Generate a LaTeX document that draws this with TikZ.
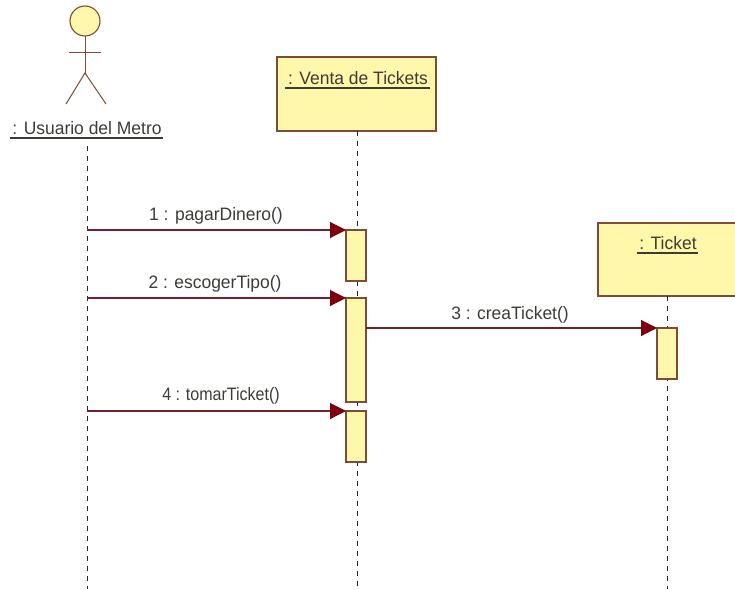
\documentclass[tikz,border=0pt]{standalone}
\usepackage{fontspec}
\setmainfont{Liberation Sans}
\usetikzlibrary{arrows.meta}
\definecolor{umlfill}{RGB}{255,247,170}
\definecolor{umlline}{RGB}{125,75,55}
\definecolor{umlmsg}{RGB}{120,30,40}
\definecolor{umlhead}{RGB}{125,0,15}
\definecolor{umltext}{RGB}{60,60,55}
\tikzset{
  every node/.style={inner sep=0pt,outer sep=0pt},
  objbox/.style={draw=umlline,fill=umlfill,line width=2pt,anchor=north west},
  activation/.style={draw=umlline,fill=umlfill,line width=1.2pt,anchor=north west,minimum width=20pt},
  lifeline/.style={black!85,line width=1pt,dash pattern=on 5pt off 5pt},
  msg/.style={umlmsg,line width=1.1pt,-{Triangle[length=16pt,width=16pt,color=umlhead]}},
  lbl/.style={text=umltext,font=\fontsize{18}{20}\selectfont\addfontfeatures{FakeStretch=0.97}},
  lblnarrow/.style={text=umltext,font=\fontsize{18}{20}\selectfont\addfontfeatures{FakeStretch=0.89}},
  actorline/.style={umlline,line width=1pt},
  ul/.style={umltext,line width=1.2pt}
}
\begin{document}
\begin{tikzpicture}[x=1pt,y=-1pt]
\useasboundingbox (0,0) rectangle (735,589);
% free ends
\coordinate (actorTop) at (87,146);
\coordinate (actorEnd) at (87,589);
\coordinate (ventaEnd) at (357,589);
\coordinate (ticketEnd) at (667,589);
\coordinate (from1) at (87,230);
\coordinate (from2) at (87,298);
\coordinate (from4) at (87,411);
% objects
\node[objbox,minimum width=159pt,minimum height=74pt] (venta) at (277,57) {};
\node[objbox,minimum width=138pt,minimum height=73pt] (ticket) at (598,223) {};
% lifelines
\draw[lifeline] (actorTop) -- (actorEnd);
\draw[lifeline] (venta.south -| ventaEnd) -- (ventaEnd);
\draw[lifeline] (ticket.south -| ticketEnd) -- (ticketEnd);
% activations
\node[activation,minimum height=51pt] (a1) at (346,230) {};
\node[activation,minimum height=104pt] (a2) at (346,298) {};
\node[activation,minimum height=51pt] (a4) at (346,411) {};
\node[activation,minimum height=51pt] (a3) at (657,328) {};
% messages
\draw[msg] (from1) -- (a1.north west);
\draw[msg] (from2) -- (a2.north west);
\draw[msg] (from4) -- (a4.north west);
\draw[msg] (a2.east |- a3.north west) -- (a3.north west);
\node[lbl] (m1) at (216,216) {1 : pagarDinero()};
\node[lbl] (m2) at (215,284) {2 : escogerTipo()};
\node[lbl] (m3) at (510,315) {3 : creaTicket()};
\node[lblnarrow] (m4) at (221,396) {4 : tomarTicket()};
% actor
\node[circle,draw=umlline,fill=umlfill,line width=1.1pt,minimum size=30pt] (head) at (85,21) {};
\coordinate (hip) at (85,73);
\coordinate (armL) at (69,52);
\coordinate (armR) at (101,52);
\coordinate (legL) at (66,104);
\coordinate (legR) at (106,104);
\draw[actorline] (head.south) -- (hip);
\draw[actorline] (armL) -- (armR);
\draw[actorline] (legL) -- (hip) -- (legR);
% names
\node[lbl] (actorLabel) at (87,128) {: Usuario del Metro};
\coordinate (ulA) at (10,138);
\coordinate (ulB) at (163,138);
\draw[ul] (ulA) -- (ulB);
\node[lbl] (ventaLabel) at (358,78) {: Venta de Tickets};
\coordinate (ulC) at (285,88);
\coordinate (ulD) at (430,88);
\draw[ul] (ulC) -- (ulD);
\node[lbl] (ticketLabel) at (668,243) {: Ticket};
\coordinate (ulE) at (637,253);
\coordinate (ulF) at (698,253);
\draw[ul] (ulE) -- (ulF);
\end{tikzpicture}
\end{document}
